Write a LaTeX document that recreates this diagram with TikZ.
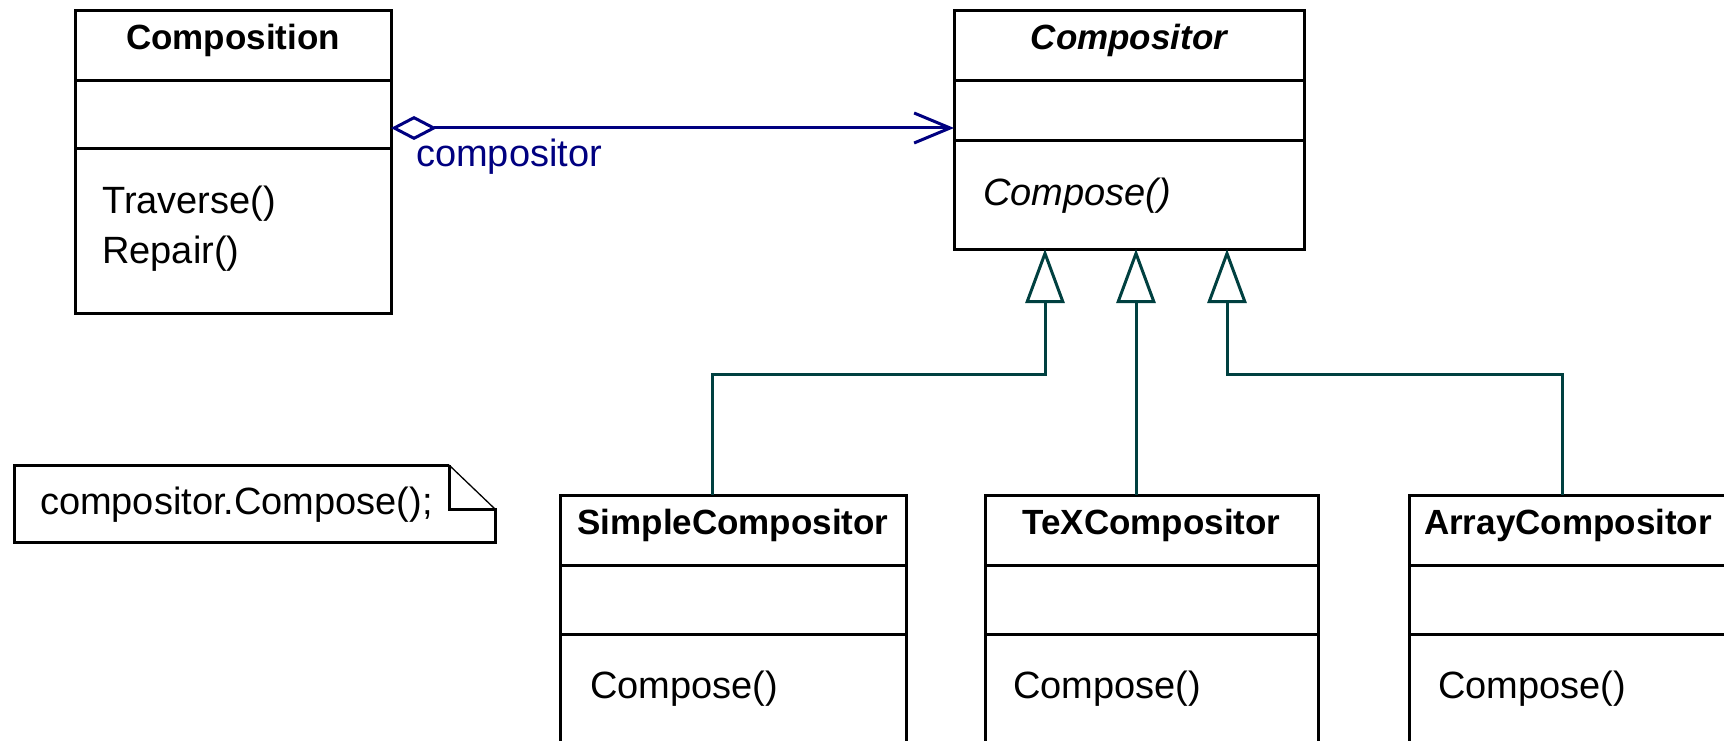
\documentclass[tikz,border=0pt]{standalone}
\usepackage{fontspec}
\setmainfont{Liberation Sans}
\usetikzlibrary{positioning,arrows.meta}
\definecolor{assoccol}{RGB}{0,0,128}
\definecolor{gencol}{RGB}{0,64,64}

\begin{document}
\begin{tikzpicture}[x=1pt,y=-1pt,line join=miter,
  classname/.style={draw,line width=3pt,outer sep=0pt,inner sep=0pt,
                    minimum width=#1,text height=39pt,text depth=31pt,
                    font=\fontsize{35}{42}\selectfont\bfseries},
  classpart/.style 2 args={draw,line width=3pt,outer sep=0pt,inner sep=0pt,
                    minimum width=#1,minimum height=#2},
  opname/.style={anchor=base west,inner sep=0pt,font=\fontsize{38}{45}\selectfont},
  notebox/.style={anchor=north west,outer sep=0pt,inner xsep=26pt,inner ysep=0pt,
                  text width=429pt,align=left,text height=49pt,text depth=28pt,
                  font=\fontsize{38}{45}\selectfont},
  assoc/.style={draw=assoccol,line width=3pt},
  inherit/.style={draw=gencol,line width=3pt,-{Triangle[open,length=54pt,width=39pt]}},
  ]
\useasboundingbox (0,0) rectangle (1724,741);
%%
  \node[classname=316pt,anchor=north west] (compositionName) at (75,11) {Composition};
  \node[classpart={316pt}{68pt},below=0pt of compositionName] (compositionAttr) {};
  \node[classpart={316pt}{164pt},below=0pt of compositionAttr] (compositionOps) {};
  \node[opname] (traverse) at ([xshift=27pt,yshift=-64pt]compositionOps.north west) {Traverse()};
  \node[opname] (repair) at ([xshift=27pt,yshift=-114pt]compositionOps.north west) {Repair()};

  \node[classname=350pt,anchor=north west] (compositorName) at (954,11) {\itshape Compositor};
  \node[classpart={350pt}{60pt},below=0pt of compositorName] (compositorAttr) {};
  \node[classpart={350pt}{108pt},below=0pt of compositorAttr] (compositorOps) {};
  \node[opname] (compose0) at ([xshift=29pt,yshift=-64pt]compositorOps.north west) {\itshape Compose()};

  \node[classname=346pt,anchor=north west] (simpleName) at (560,495) {SimpleCompositor};
  \node[classpart={346pt}{69pt},below=0pt of simpleName] (simpleAttr) {};
  \node[classpart={346pt}{164pt},below=0pt of simpleAttr] (simpleOps) {};
  \node[opname] (compose1) at ([xshift=30pt,yshift=-64pt]simpleOps.north west) {Compose()};

  \node[classname=333pt,anchor=north west] (texName) at (985,495) {TeXCompositor};
  \node[classpart={333pt}{69pt},below=0pt of texName] (texAttr) {};
  \node[classpart={333pt}{164pt},below=0pt of texAttr] (texOps) {};
  \node[opname] (compose2) at ([xshift=28pt,yshift=-64pt]texOps.north west) {Compose()};

  \node[classname=318pt,anchor=north west] (arrayName) at (1409,495) {ArrayCompositor};
  \node[classpart={318pt}{69pt},below=0pt of arrayName] (arrayAttr) {};
  \node[classpart={318pt}{164pt},below=0pt of arrayAttr] (arrayOps) {};
  \node[opname] (compose3) at ([xshift=29pt,yshift=-64pt]arrayOps.north west) {Compose()};

  \node[notebox] (note) at (14,465) {compositor.Compose();};
  \draw[line width=3pt] ([xshift=-46pt]note.north east) -- (note.north west) -- (note.south west)
    -- (note.south east) -- ([yshift=-44pt]note.north east) -| ([xshift=-46pt]note.north east);
  \draw[line width=1.3pt] ([xshift=-46pt]note.north east) -- ([yshift=-44pt]note.north east);

  \draw[assoc,{Diamond[open,length=46pt,width=24pt]}-{Straight Barb[length=36pt,width=30pt]}]
    (compositionAttr.east |- 0,128) -- (compositorAttr.west |- 0,128);
  \node[opname,text=assoccol] (assocLabel) at (416,167) {compositor};

  \coordinate (bus) at (0,374);
  \coordinate (gen1) at ([xshift=-84pt]compositorOps.south);
  \coordinate (gen2) at ([xshift=7pt]compositorOps.south);
  \coordinate (gen3) at ([xshift=98pt]compositorOps.south);
  \draw[inherit] ([xshift=-21pt]simpleName.north) |- (bus -| gen1) -- (gen1);
  \draw[inherit] ([xshift=-15.5pt]texName.north) -- (gen2);
  \draw[inherit] ([xshift=-6pt]arrayName.north) |- (bus -| gen3) -- (gen3);
%
\end{tikzpicture}
\end{document}
